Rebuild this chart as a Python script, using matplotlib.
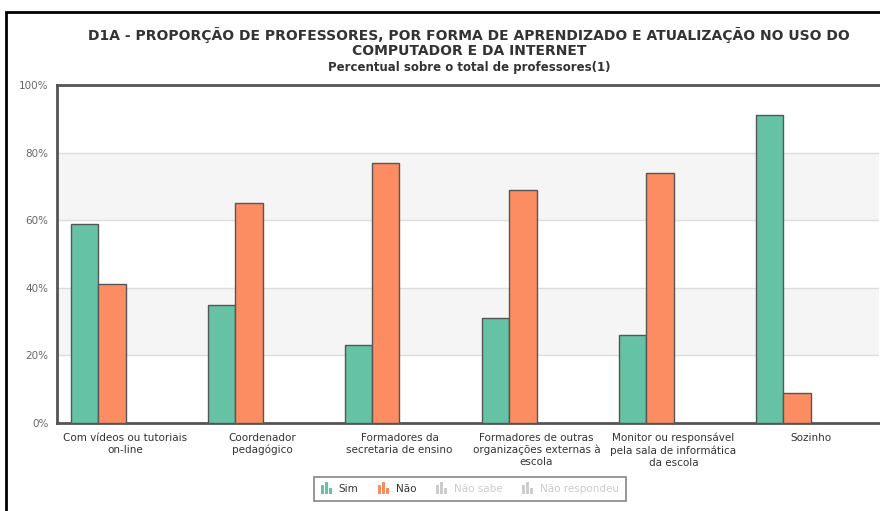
import matplotlib
matplotlib.use("Agg")
import matplotlib.pyplot as plt
import numpy as np
from matplotlib.patches import Rectangle
from matplotlib.legend_handler import HandlerBase

categories = [
    "Com vídeos ou tutoriais\non-line",
    "Coordenador\npedagógico",
    "Formadores da\nsecretaria de ensino",
    "Formadores de outras\norganizações externas à\nescola",
    "Monitor ou responsável\npela sala de informática\nda escola",
    "Sozinho",
]
series_names = ["Sim", "Não", "Não sabe", "Não respondeu"]
sim = [59, 35, 23, 31, 26, 91]
nao = [41, 65, 77, 69, 74, 9]
yticks = [0, 20, 40, 60, 80, 100]
ytick_labels = ["0%", "20%", "40%", "60%", "80%", "100%"]

colors = {"Sim": "#66c2a5", "Não": "#fc8d62", "Não sabe": "#cccccc", "Não respondeu": "#cccccc"}
visible = {"Sim": sim, "Não": nao}

W, H = 880, 511
fig = plt.figure(figsize=(W / 100, H / 100), dpi=100)
ax = fig.add_axes([57 / W, 1 - 423 / H, 822 / W, (423 - 85) / H])

x = np.arange(len(categories))
bw = 0.2
n = len(series_names)
for i, name in enumerate(series_names):
    if name in visible:
        ax.bar(x + (i - (n - 1) / 2) * bw, visible[name], width=bw,
               color=colors[name], edgecolor="#555555", linewidth=1, zorder=3)

ax.set_xlim(-0.5, len(categories) - 0.5)
ax.set_ylim(0, 100)
for lo, hi in [(20, 40), (60, 80)]:
    ax.axhspan(lo, hi, color="#f5f5f5", zorder=0, lw=0)
for t in yticks[1:-1]:
    ax.axhline(t, color="#dddddd", lw=1, zorder=1)

ax.set_yticks(yticks)
ax.set_yticklabels(ytick_labels, fontsize=7.5, color="#666666")
ax.set_xticks(x)
ax.set_xticklabels(categories, fontsize=7.5, color="#333333", linespacing=1.25, va="top")
ax.tick_params(axis="both", length=0)
ax.tick_params(axis="x", pad=7)
ax.tick_params(axis="y", pad=6)
for s in ["left", "bottom", "top"]:
    ax.spines[s].set_color("#555555")
    ax.spines[s].set_linewidth(2)
ax.spines["right"].set_visible(False)

# Titles
fig.text(469 / W, 1 - 35 / H, "D1A - PROPORÇÃO DE PROFESSORES, POR FORMA DE APRENDIZADO E ATUALIZAÇÃO NO USO DO",
         ha="center", va="center", fontsize=10, fontweight="bold", color="#333333")
fig.text(469 / W, 1 - 51 / H, "COMPUTADOR E DA INTERNET",
         ha="center", va="center", fontsize=10, fontweight="bold", color="#333333")
fig.text(469 / W, 1 - 67 / H, "Percentual sobre o total de professores(1)",
         ha="center", va="center", fontsize=8.5, fontweight="bold", color="#333333")

# Outer frame
fig.patches.append(Rectangle((6 / W, -0.05), 1.1, 1 - 12 / H + 0.05, transform=fig.transFigure,
                             fill=False, edgecolor="#000000", linewidth=2))


class BarIconHandler(HandlerBase):
    def create_artists(self, legend, orig_handle, xdescent, ydescent, width, height, fontsize, trans):
        c = orig_handle.get_facecolor()
        arts = []
        bwid = width / 4.0
        heights = [0.75, 1.0, 0.5]
        for k, hh in enumerate(heights):
            r = Rectangle((xdescent + k * bwid * 1.4, ydescent - 2), bwid, height * hh * 1.3,
                          facecolor=c, edgecolor="none", transform=trans)
            arts.append(r)
        return arts


handles = [Rectangle((0, 0), 1, 1, facecolor=colors[nm]) for nm in series_names]
leg = fig.legend(handles, series_names, loc="center", bbox_to_anchor=(470 / W, 1 - 489 / H),
                 ncol=4, fontsize=7.5, frameon=True, fancybox=False, edgecolor="#666666",
                 handler_map={Rectangle: BarIconHandler()}, handlelength=1.1, handleheight=1.0,
                 handletextpad=0.6, columnspacing=1.9, borderpad=0.7)
leg.get_frame().set_linewidth(1.2)
for txt, nm in zip(leg.get_texts(), series_names):
    txt.set_color("#333333" if nm in visible else "#cccccc")

fig.savefig("out.png", dpi=100)
